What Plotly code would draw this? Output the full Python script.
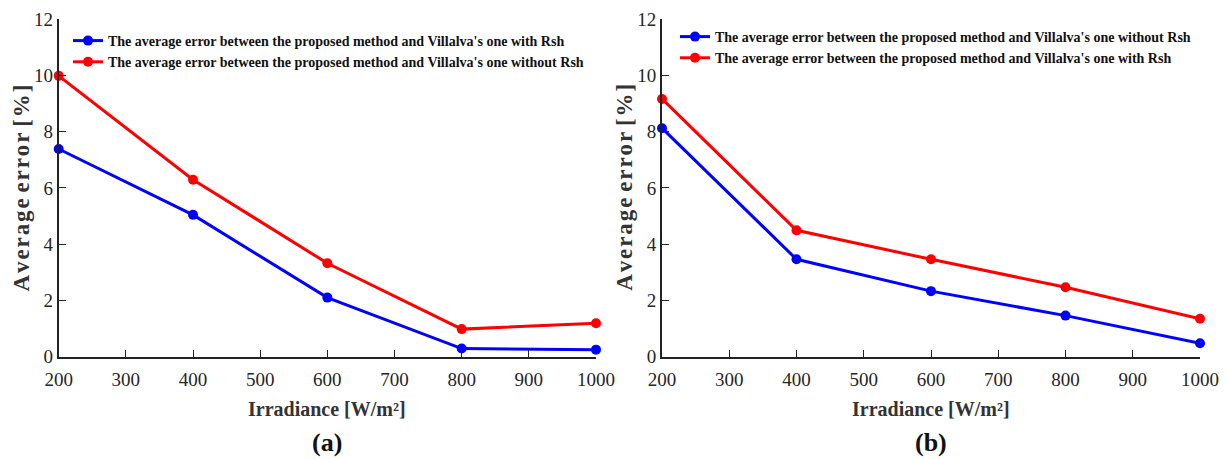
import plotly.graph_objects as go

# Irradiance levels (W/m²)
irradiance = [200, 400, 600, 800, 1000]

# Panel (a): average error [%]
a_with_rsh = [7.38, 5.04, 2.10, 0.29, 0.25]
a_without_rsh = [9.98, 6.29, 3.32, 0.98, 1.19]

# Panel (b): average error [%]
b_without_rsh = [8.12, 3.46, 2.33, 1.46, 0.48]
b_with_rsh = [9.16, 4.49, 3.46, 2.47, 1.35]

label_with = "The average error between the proposed method and Villalva's one with Rsh"
label_without = "The average error between the proposed method and Villalva's one without Rsh"

x_ticks = [200, 300, 400, 500, 600, 700, 800, 900, 1000]
y_ticks = [0, 2, 4, 6, 8, 10, 12]

BLUE = "#0000ff"
RED = "#ff0000"
SERIF = "Liberation Serif"

W, H = 1228, 460
# plot-area pixel bounds
top_px, bottom_px = 19.0, 356.7
left_a, right_a = 58.7, 596.0
left_b, right_b = 662.0, 1200.0


def px_x(p):
    return p / W


def px_y(p):
    return 1 - p / H


def spaced(text):
    # letter-spaced vertical title: hair spaces between letters, a full space between words
    return "\u00a0".join("\u200a".join(word) for word in text.split(" "))


fig = go.Figure()

line_kw = dict(mode="lines+markers", cliponaxis=False)

fig.add_trace(go.Scatter(x=irradiance, y=a_with_rsh, name=label_with,
                         line=dict(color=BLUE, width=3), marker=dict(size=10, color=BLUE),
                         xaxis="x", yaxis="y", legend="legend", **line_kw))
fig.add_trace(go.Scatter(x=irradiance, y=a_without_rsh, name=label_without,
                         line=dict(color=RED, width=3), marker=dict(size=10, color=RED),
                         xaxis="x", yaxis="y", legend="legend", **line_kw))
fig.add_trace(go.Scatter(x=irradiance, y=b_without_rsh, name=label_without,
                         line=dict(color=BLUE, width=3), marker=dict(size=10, color=BLUE),
                         xaxis="x2", yaxis="y2", legend="legend2", **line_kw))
fig.add_trace(go.Scatter(x=irradiance, y=b_with_rsh, name=label_with,
                         line=dict(color=RED, width=3), marker=dict(size=10, color=RED),
                         xaxis="x2", yaxis="y2", legend="legend2", **line_kw))

tick_font = dict(family=SERIF, size=19, color="#262626")

axis_common = dict(ticks="inside", ticklen=7, tickwidth=1.2, tickcolor="#222",
                   showline=True, linecolor="#222", linewidth=2, showgrid=False,
                   zeroline=False, tickfont=tick_font, automargin=False)
x_common = dict(range=[200, 1000], tickvals=x_ticks, ticklabelstandoff=4, **axis_common)
y_common = dict(range=[0, 12], tickvals=y_ticks, **axis_common)

y_dom = [px_y(bottom_px), px_y(top_px)]

legend_common = dict(bgcolor="rgba(0,0,0,0)", borderwidth=0,
                     font=dict(family=SERIF, size=14, color="#111", weight="bold"),
                     xanchor="left", yanchor="top", tracegroupgap=0)

fig.update_layout(
    width=W, height=H,
    margin=dict(l=0, r=0, t=0, b=0),
    paper_bgcolor="white", plot_bgcolor="white",
    xaxis=dict(domain=[px_x(left_a), px_x(right_a)], anchor="y", **x_common),
    yaxis=dict(domain=y_dom, anchor="x", **y_common),
    xaxis2=dict(domain=[px_x(left_b), px_x(right_b)], anchor="y2", **x_common),
    yaxis2=dict(domain=y_dom, anchor="x2", **y_common),
    legend=dict(x=px_x(68), y=px_y(25), **legend_common),
    legend2=dict(x=px_x(675), y=px_y(21), **legend_common),
    showlegend=True,
)

title_font = dict(family=SERIF, size=20, color="#333", weight="bold")
ytitle_font = dict(family=SERIF, size=23, color="#333", weight="bold")
panel_font = dict(family=SERIF, size=26, color="#111", weight="bold")

for left, right, tag in [(left_a, right_a, "(a)"), (left_b, right_b, "(b)")]:
    cx = px_x((left + right) / 2)
    fig.add_annotation(x=cx, y=px_y(409), xref="paper", yref="paper",
                       text="Irradiance [W/m²]", showarrow=False,
                       xanchor="center", yanchor="middle", font=title_font)
    fig.add_annotation(x=cx, y=px_y(442), xref="paper", yref="paper",
                       text=tag, showarrow=False,
                       xanchor="center", yanchor="middle", font=panel_font)
    fig.add_annotation(x=px_x(left - 37), y=px_y((top_px + bottom_px) / 2),
                       xref="paper", yref="paper",
                       text=spaced("Average error [%]"),
                       textangle=-90, showarrow=False,
                       xanchor="center", yanchor="middle", font=ytitle_font)

fig.write_html("out.html")
